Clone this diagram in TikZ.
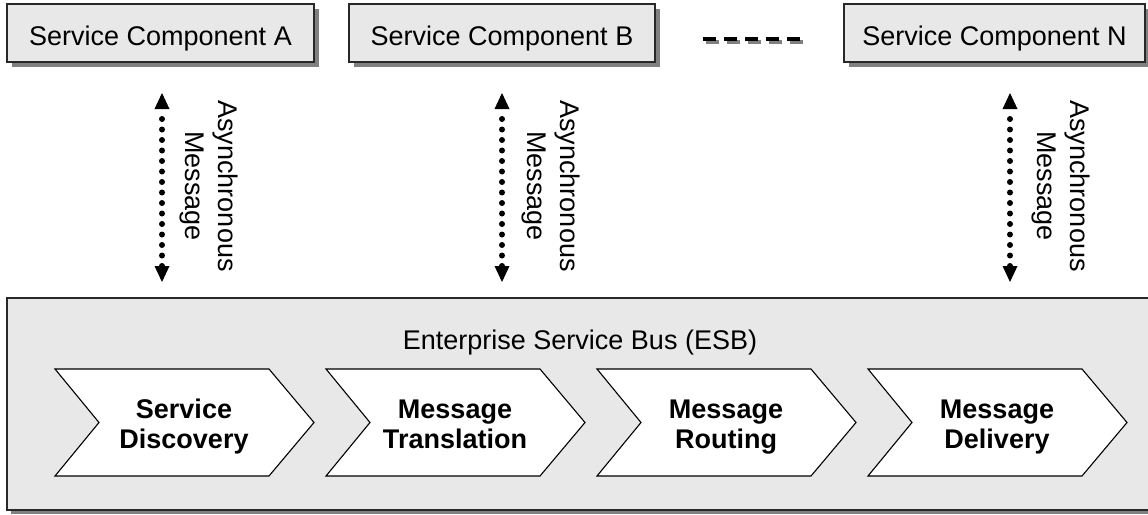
\documentclass[tikz,border=0pt]{standalone}
\usepackage{fontspec}
\setmainfont{Liberation Sans}
\usetikzlibrary{arrows.meta,shadows}
\definecolor{boxgray}{RGB}{232,232,232}
\definecolor{shadowgray}{RGB}{128,128,128}
\definecolor{edgegray}{RGB}{40,40,40}
\begin{document}
\begin{tikzpicture}[x=1pt,y=-1pt,
  every node/.style={font=\fontsize{27}{31}\selectfont, inner sep=0pt, outer sep=0pt},
  topbox/.style={draw=edgegray, line width=1.3pt, fill=boxgray, anchor=north west,
    minimum height=58pt, text height=24pt, text depth=0pt,
    drop shadow={shadow xshift=5pt, shadow yshift=-5pt, fill=shadowgray, opacity=1}},
  esbbox/.style={draw=edgegray, line width=1.3pt, fill=boxgray, anchor=north west,
    drop shadow={shadow xshift=4pt, shadow yshift=-4pt, fill=shadowgray, opacity=1}},
  chev/.style={draw=black, line width=1.1pt, fill=white, line join=miter},
  chevtext/.style={font=\fontsize{27}{30}\selectfont\bfseries, align=center},
  msgtext/.style={font=\fontsize{27}{33}\selectfont, align=center, rotate=-90},
  dotline/.style={line width=6pt, line cap=round, dash pattern=on 0pt off 10.5pt,
    shorten <=26pt, shorten >=16pt},
  tiphead/.style={fill=black},
  dashline/.style={line width=3.5pt, dash pattern=on 13pt off 8pt}
]
\useasboundingbox[fill=white] (0,0) rectangle (1148,514);

% top service components
\node[topbox, minimum width=307pt] (A) at (7,4) {Service Component A};
\node[topbox, minimum width=306pt] (B) at (349,4) {Service Component B};
\node[topbox, minimum width=301pt] (N) at (844,4) {Service Component N};

% dashed ellipsis between B and N
\coordinate (d1) at (703,39);
\coordinate (d2) at (800,39);
\draw[dashline, shadowgray] ([shift={(3,3)}]d1) -- ([shift={(3,3)}]d2);
\draw[dashline, black] (d1) -- (d2);

% ESB box
\node[esbbox, minimum width=1148pt, minimum height=212pt] (esb) at (7,298) {};
\node[anchor=base] (esblabel) at (580,349) {Enterprise Service Bus (ESB)};

% chevrons
\foreach \i/\t in {0/{Service\strut\\Discovery\strut}, 1/{Message\strut\\Translation\strut}, 2/{Message\strut\\Routing\strut}, 3/{Message\strut\\Delivery\strut}}{
  \pgfmathsetmacro{\L}{55+271*\i}
  \draw[chev] (\L,369) -- ++(214,0) -- ++(45,53.5) -- ++(-45,53.5) -- ++(-214,0) -- ++(44,-53.5) -- cycle;
  \node[chevtext] (c\i) at (\L+129,427) {\t};
}

% asynchronous message arrows (dotted shaft, solid triangular heads)
\foreach \k/\x in {1/162, 2/502, 3/1010}{
  \coordinate (a\k t) at (\x,93);
  \coordinate (a\k b) at (\x,282);
  \draw[dotline] (a\k t) -- (a\k b);
  \fill[tiphead] (a\k t) -- ++(-7.5,16) -- ++(15,0) -- cycle;
  \fill[tiphead] (a\k b) -- ++(-7.5,-16) -- ++(15,0) -- cycle;
}
\node[msgtext] (m1) at (208.5,186) {Asynchronous\\Message};
\node[msgtext] (m2) at (550.5,186) {Asynchronous\\Message};
\node[msgtext] (m3) at (1060.5,186) {Asynchronous\\Message};
\end{tikzpicture}
\end{document}
